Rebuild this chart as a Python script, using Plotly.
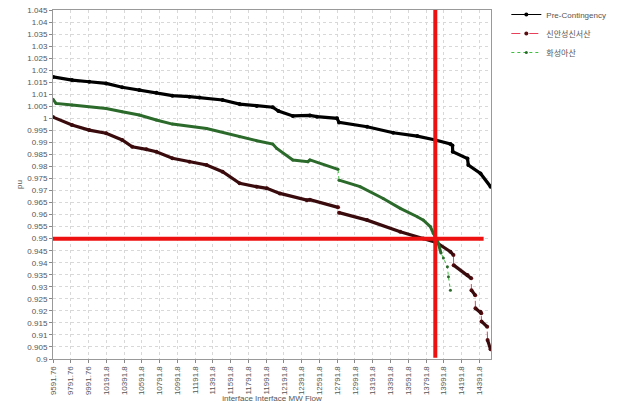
import plotly.graph_objects as go

# ---------------- data ----------------
pre_mw = [9591.76, 9806, 10000, 10190, 10371, 10563, 10755, 10936, 11128, 11241,
          11501, 11693, 11886, 12066, 12130, 12292, 12484, 12563, 12789, 12812,
          13128, 13422, 13693, 13897, 14066, 14089, 14092, 14258, 14268, 14405, 14518]
pre_pu = [1.0172, 1.0159, 1.0152, 1.0145, 1.0129, 1.0118, 1.0106, 1.0094, 1.0090, 1.0086,
          1.0076, 1.0059, 1.0051, 1.0046, 1.0030, 1.0010, 1.0012, 1.0007, 1.0000, 0.9983,
          0.9965, 0.9940, 0.9926, 0.9910, 0.9893, 0.9887, 0.9861, 0.9833, 0.9806, 0.9771, 0.9716]

ss_mw = [9591.76, 9806, 9999, 10190, 10371, 10484, 10643, 10755, 10936, 11128,
         11321, 11501, 11693, 11886, 11999, 12146, 12450, 12484, 12801, 12812,
         13128, 13501, 13761, 13908, 14066, 14100, 14103, 14258, 14300, 14303,
         14345, 14348, 14405, 14413, 14416, 14480, 14484, 14518]
ss_pu = [1.0005, 0.9972, 0.9951, 0.9938, 0.9910, 0.9882, 0.9871, 0.9861, 0.9834, 0.9820,
         0.9806, 0.9778, 0.9730, 0.9716, 0.9709, 0.9688, 0.9660, 0.9662, 0.9630, 0.9608,
         0.9577, 0.9529, 0.9501, 0.9484, 0.9446, 0.9432, 0.9390, 0.9349, 0.9335, 0.9286,
         0.9265, 0.9211, 0.9196, 0.9190, 0.9156, 0.9134, 0.9079, 0.9040]
ss_breaks = [12801, 14100, 14300, 14345, 14413, 14480]   # thick line breaks after these MW

ha_mw = [9591.76, 9626, 9806, 10190, 10371, 10563, 10755, 10936, 11321, 11693,
         11886, 12066, 12111, 12292, 12462, 12484, 12801, 12812, 13049, 13309,
         13501, 13693, 13761, 13840, 13874, 13919, 13960, 13987, 14032, 14044, 14066]
ha_pu = [1.0079, 1.0062, 1.0055, 1.0041, 1.0027, 1.0014, 0.9993, 0.9976, 0.9958, 0.9923,
         0.9907, 0.9893, 0.9875, 0.9827, 0.9820, 0.9827, 0.9788, 0.9743, 0.9716, 0.9667,
         0.9626, 0.9591, 0.9577, 0.9550, 0.9522, 0.9494, 0.9440, 0.9420, 0.9383, 0.9342, 0.9286]
ha_breaks = [12801]
ha_dense_until = 13960   # beyond this only sparse dotted points

names = ["Pre-Contingency", "신안성신서산", "화성아산"]

tick_vals = [9591.76 + 200 * i for i in range(25)]
tick_text = ["9591.76", "9791.76", "9991.76", "10191.8", "10391.8", "10591.8", "10791.8",
             "10991.8", "11191.8", "11391.8", "11591.8", "11791.8", "11991.8", "12191.8",
             "12391.8", "12591.8", "12791.8", "12991.8", "13191.8", "13391.8", "13591.8",
             "13791.8", "13991.8", "14191.8", "14391.8"]

pu_limit = 0.95
mw_limit = 13896
x_min, x_max = 9591.76, 14523
y_min, y_max = 0.9, 1.045
hline_end = 14440


def thick(xs, ys, breaks=(), until=None):
    ox, oy = [], []
    for x, y in zip(xs, ys):
        if until is not None and x > until:
            break
        ox.append(x)
        oy.append(y)
        if x in breaks:
            ox.append(None)
            oy.append(None)
    return ox, oy


FONT = "Liberation Sans, Arial, Noto Sans CJK KR, sans-serif"
fig = go.Figure()

# legend / connector traces
fig.add_trace(go.Scatter(x=pre_mw, y=pre_pu, name=names[0], mode="lines+markers",
                         line=dict(color="#000000", width=1),
                         marker=dict(color="#000000", size=4)))
fig.add_trace(go.Scatter(x=ss_mw, y=ss_pu, name=names[1], mode="lines+markers",
                         line=dict(color="#e8405a", width=1, dash="dash"),
                         marker=dict(color="#5a0d10", size=4)))
fig.add_trace(go.Scatter(x=ha_mw, y=ha_pu, name=names[2], mode="lines+markers",
                         line=dict(color="#3fbf3f", width=1, dash="dot"),
                         marker=dict(color="#2c6a2c", size=3)))

# thick appearance of dense markers
tx, ty = thick(pre_mw, pre_pu)
fig.add_trace(go.Scatter(x=tx, y=ty, mode="lines", showlegend=False, hoverinfo="skip",
                         line=dict(color="#000000", width=3.2)))
tx, ty = thick(ss_mw, ss_pu, ss_breaks)
fig.add_trace(go.Scatter(x=tx, y=ty, mode="lines", showlegend=False, hoverinfo="skip",
                         line=dict(color="#3a0b0d", width=3.2)))
tx, ty = thick(ha_mw, ha_pu, ha_breaks, ha_dense_until)
fig.add_trace(go.Scatter(x=tx, y=ty, mode="lines", showlegend=False, hoverinfo="skip",
                         line=dict(color="#2c6a2c", width=3)))

# red limit lines
fig.add_shape(type="line", x0=x_min, x1=hline_end, y0=pu_limit, y1=pu_limit,
              line=dict(color="#ee1111", width=4), layer="above")
fig.add_shape(type="line", x0=mw_limit, x1=mw_limit, y0=y_max, y1=0.9005,
              line=dict(color="#ee1111", width=4), layer="above")

fig.update_layout(
    width=619, height=403,
    margin=dict(l=53, r=128, t=10, b=44, autoexpand=False),
    paper_bgcolor="white", plot_bgcolor="white",
    font=dict(family=FONT, size=8, color="#555555"),
    showlegend=True,
    legend=dict(xref="container", yref="container", x=0.818, y=1.0,
                xanchor="left", yanchor="top",
                font=dict(size=8, color="#555555", family=FONT),
                bgcolor="rgba(0,0,0,0)", tracegroupgap=0),
)
fig.update_xaxes(range=[x_min, x_max], tickmode="array", tickvals=tick_vals, ticktext=tick_text,
                 tickangle=-90, ticks="outside", ticklen=3, tickcolor="#888888",
                 showline=True, linecolor="#999999", linewidth=1, mirror=True,
                 showgrid=True, gridcolor="#d8d8d8", griddash="dot", gridwidth=1,
                 zeroline=False, automargin=False,
                 tickfont=dict(size=8, color="#555555"),
                 title=dict(text="interface Interface MW Flow", font=dict(size=8, color="#555555"),
                            standoff=4))
fig.update_yaxes(range=[y_min, y_max], tick0=0.9, dtick=0.005,
                 ticks="outside", ticklen=3, tickcolor="#888888",
                 showline=True, linecolor="#999999", linewidth=1, mirror=True,
                 showgrid=True, gridcolor="#d8d8d8", griddash="dot", gridwidth=1,
                 zeroline=False, automargin=False,
                 tickfont=dict(size=8, color="#555555"),
                 title=dict(text="pu", font=dict(size=8, color="#555555"), standoff=3))

fig.write_html("out.html")
